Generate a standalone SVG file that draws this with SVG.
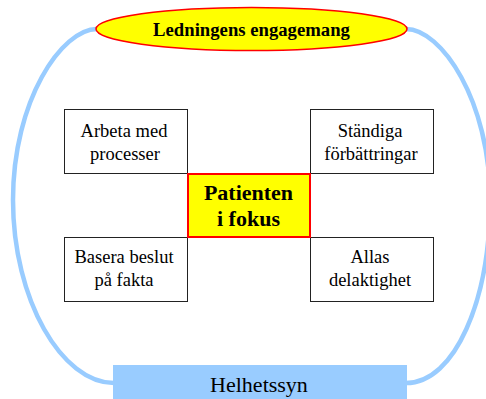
<svg xmlns="http://www.w3.org/2000/svg" width="486" height="399" viewBox="0 0 486 399">
<style>
.loop{fill:none;stroke:#99CCFF;stroke-width:4.5}
.box{fill:#fff;stroke:#222;stroke-width:1}
.t{font-family:"Liberation Serif","Times New Roman",serif;font-size:18.5px;text-anchor:middle;fill:#000}
.b{font-weight:bold}
</style>
<rect width="486" height="399" fill="#fff"/>
<g id="connectors">
<path class="loop" d="M97,29 C62,29 13,100 13,200 C13,300 62,383 114,383"/>
<path class="loop" d="M406,29 C441,29 490,100 490,200 C490,300 455,383 406,383"/>
</g>
<g id="ledning">
<ellipse cx="251.5" cy="29" rx="155.5" ry="21.5" fill="#FFFF00" stroke="#FF0000" stroke-width="1.5"/>
<text class="t b" x="251.5" y="36" style="font-size:18.7px">Ledningens engagemang</text>
</g>
<g id="arbeta">
<rect class="box" x="64.5" y="109.5" width="123" height="64"/>
<text class="t" x="124" y="137">Arbeta med</text>
<text class="t" x="125" y="160">processer</text>
</g>
<g id="standiga">
<rect class="box" x="310.5" y="109.5" width="123" height="64"/>
<text class="t" x="370" y="137">Ständiga</text>
<text class="t" x="371" y="160">förbättringar</text>
</g>
<g id="basera">
<rect class="box" x="64.5" y="237.5" width="123" height="64"/>
<text class="t" x="124" y="263">Basera beslut</text>
<text class="t" x="124" y="286">på fakta</text>
</g>
<g id="allas">
<rect class="box" x="310.5" y="237.5" width="123" height="64"/>
<text class="t" x="370" y="263">Allas</text>
<text class="t" x="370" y="286">delaktighet</text>
</g>
<g id="patienten">
<rect x="188" y="174" width="122" height="63" fill="#FFFF00" stroke="#FF0000" stroke-width="2"/>
<text class="t b" x="248.5" y="200" style="font-size:22px">Patienten</text>
<text class="t b" x="248.5" y="226" style="font-size:22px">i fokus</text>
</g>
<g id="helhetssyn">
<rect x="113" y="365" width="294" height="34" fill="#99CCFF"/>
<text class="t" x="259" y="392" style="font-size:22px">Helhetssyn</text>
</g>
</svg>
